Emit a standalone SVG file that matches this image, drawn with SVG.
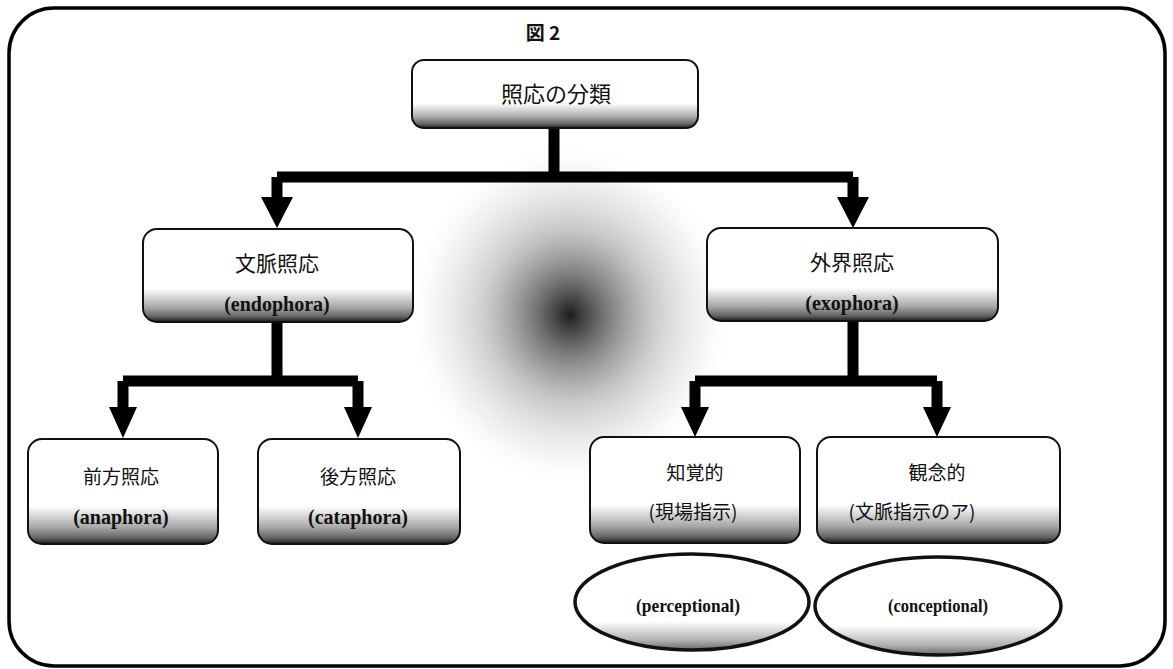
<svg xmlns="http://www.w3.org/2000/svg" width="1173" height="669" viewBox="0 0 1173 669">
<style>
.box{stroke:#111;stroke-width:2;fill:url(#shade)}
.ell{stroke:#111;stroke-width:3.5;fill:url(#shade2)}
.jp{font-family:"Noto Sans CJK JP","Noto Sans",sans-serif;font-size:19px;fill:#111;text-anchor:middle}
.jpl{font-size:21px}
.jpxl{font-size:22px}
.en{font-family:"Liberation Serif",serif;font-size:20px;font-weight:bold;fill:#111;text-anchor:middle}
.ee{font-family:"Liberation Serif",serif;font-size:19px;font-weight:bold;fill:#111;text-anchor:middle}
.con{fill:none;stroke:#000;stroke-width:11;stroke-linejoin:round}
.head{fill:#000}
</style>
<defs>
<linearGradient id="shade" x1="0" y1="0" x2="0" y2="1">
<stop offset="0" stop-color="#fff"/>
<stop offset="0.64" stop-color="#fff"/>
<stop offset="0.84" stop-color="#a8a8a8"/>
<stop offset="0.94" stop-color="#666"/>
<stop offset="1" stop-color="#1a1a1a"/>
</linearGradient>
<linearGradient id="shade2" x1="0" y1="0" x2="0" y2="1">
<stop offset="0" stop-color="#fff"/>
<stop offset="0.7" stop-color="#fff"/>
<stop offset="0.9" stop-color="#b0b0b0"/>
<stop offset="1" stop-color="#6a6a6a"/>
</linearGradient>
<radialGradient id="blob" cx="0.5" cy="0.5" r="0.5">
<stop offset="0" stop-color="#111" stop-opacity="0.95"/>
<stop offset="0.2" stop-color="#444" stop-opacity="0.75"/>
<stop offset="0.5" stop-color="#888" stop-opacity="0.45"/>
<stop offset="0.8" stop-color="#bbb" stop-opacity="0.18"/>
<stop offset="1" stop-color="#fff" stop-opacity="0"/>
</radialGradient>
</defs>
<rect width="1173" height="669" fill="#fff"/>
<rect x="9" y="8" width="1156" height="658" rx="45" ry="45" fill="none" stroke="#000" stroke-width="3.5"/>
<ellipse cx="570" cy="315" rx="165" ry="175" fill="url(#blob)"/>
<text x="543" y="40" font-family="'Noto Sans CJK JP',sans-serif" font-size="19" font-weight="bold" text-anchor="middle" fill="#111">図 2</text>
<g id="connectors">
<path class="con" d="M554 124 V177 M277 177 H853 M277 177 V200 M853 177 V200"/>
<path class="head" d="M261 197 L293 197 L277 228 Z M837 197 L869 197 L853 228 Z"/>
<path class="con" d="M277 323 V381 M123 381 H358 M123 381 V410 M358 381 V410"/>
<path class="head" d="M109 407 L137 407 L123 438 Z M344 407 L372 407 L358 438 Z"/>
<path class="con" d="M853 322 V381 M695 381 H937 M695 381 V410 M937 381 V410"/>
<path class="head" d="M681 407 L709 407 L695 437 Z M923 407 L951 407 L937 437 Z"/>
</g>
<g id="n_root"><rect class="box" x="412" y="60" width="286" height="68" rx="12"/><text class="jp jpxl" x="556" y="102">照応の分類</text></g>
<g id="n_endo"><rect class="box" x="143" y="229" width="270" height="93" rx="14"/><text class="jp jpl" x="277" y="271">文脈照応</text><text class="en" x="277" y="311">(endophora)</text></g>
<g id="n_exo"><rect class="box" x="707" y="228" width="291" height="93" rx="14"/><text class="jp jpl" x="852" y="270">外界照応</text><text class="en" x="852" y="310">(exophora)</text></g>
<g id="n_ana"><rect class="box" x="28" y="439" width="190" height="105" rx="14"/><text class="jp" x="121" y="484">前方照応</text><text class="en" x="121" y="524">(anaphora)</text></g>
<g id="n_cata"><rect class="box" x="258" y="439" width="202" height="105" rx="14"/><text class="jp" x="358" y="484">後方照応</text><text class="en" x="358" y="524">(cataphora)</text></g>
<g id="n_perc"><rect class="box" x="590" y="437" width="210" height="106" rx="14"/><text class="jp" x="695" y="480">知覚的</text><text class="jp" x="693" y="519">(現場指示)</text></g>
<g id="n_conc"><rect class="box" x="817" y="437" width="243" height="106" rx="14"/><text class="jp" x="937" y="480">観念的</text><text class="jp" x="912" y="519">(文脈指示のア)</text></g>
<g id="n_perc_e"><ellipse class="ell" cx="692" cy="602" rx="117" ry="48"/><text class="ee" x="688" y="612" textLength="104" lengthAdjust="spacingAndGlyphs">(perceptional)</text></g>
<g id="n_conc_e"><ellipse class="ell" cx="938" cy="606" rx="123" ry="49"/><text class="ee" x="938" y="612" textLength="100" lengthAdjust="spacingAndGlyphs">(conceptional)</text></g>
</svg>
